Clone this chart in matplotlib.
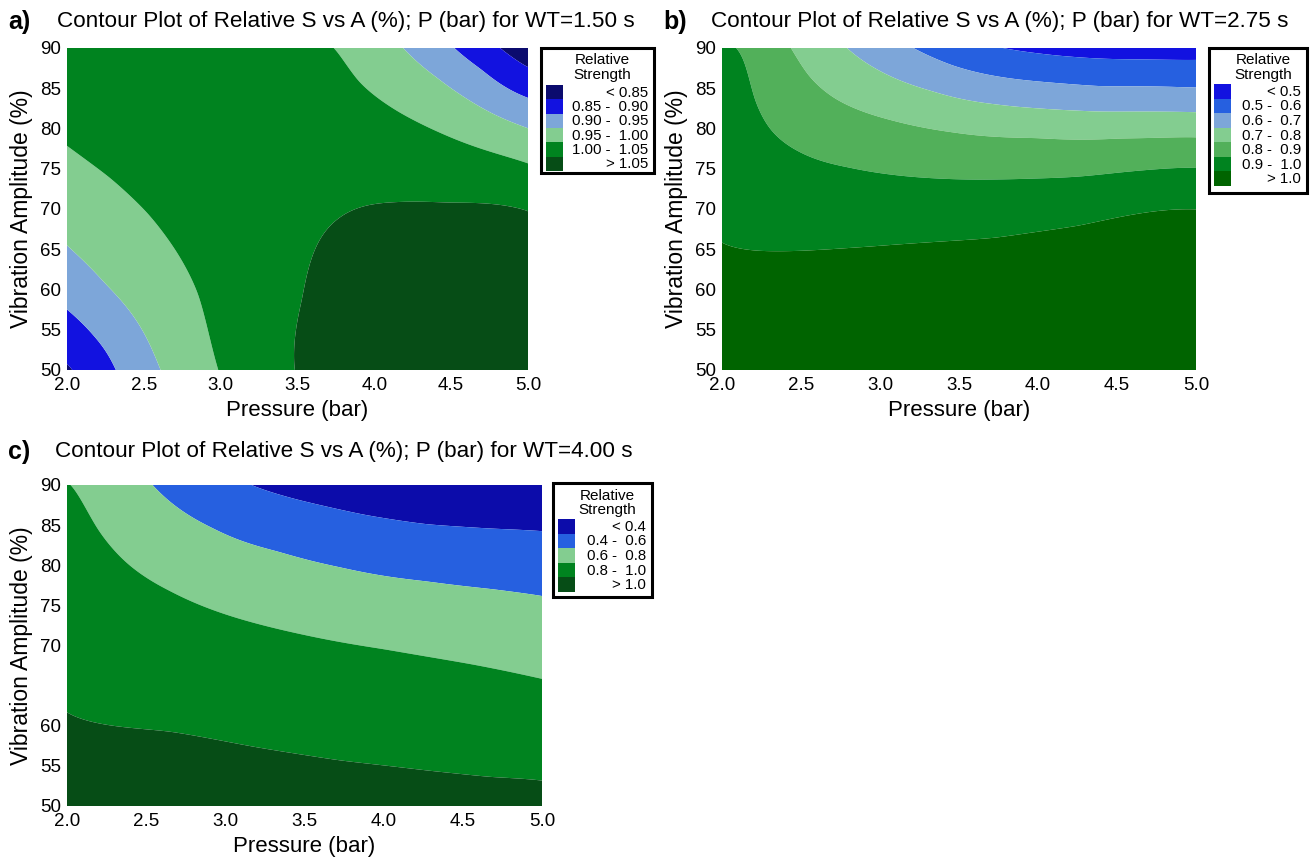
import numpy as np
import matplotlib
matplotlib.use("Agg")
import matplotlib.pyplot as plt
from matplotlib.patches import Rectangle
from matplotlib import font_manager as fm

# ---------------- data (points read on the contour boundaries) ----------------
# panel a: WT = 1.50 s
a_P = [2.00, 2.08, 4.78, 5.00,
       2.00, 2.17, 2.31, 4.51, 4.71, 5.00,
       2.00, 2.25, 2.45, 2.60, 4.19, 4.41, 4.69, 5.00,
       2.00, 2.28, 2.53, 2.72, 2.86, 2.98, 3.77, 3.89, 4.17, 4.44, 5.00,
       3.47, 3.54, 3.62, 3.76, 3.95, 4.14, 4.50, 5.00,
       3.30, 2.00]
a_A = [51.0, 50.0, 90.0, 87.0,
       57.5, 54.1, 50.0, 90.0, 87.7, 83.9,
       65.3, 60.4, 56.2, 50.0, 90.0, 86.5, 82.7, 80.1,
       77.9, 74.0, 69.5, 64.5, 59.5, 50.0, 90.0, 85.6, 81.9, 79.4, 75.8,
       50.0, 58.7, 65.3, 68.6, 70.5, 70.8, 70.6, 70.1,
       74.0, 90.0]
a_S = [0.85] * 4 + [0.90] * 6 + [0.95] * 8 + [1.00] * 11 + [1.05] * 8 + [1.035, 1.035]
a_bounds = [0.85, 0.90, 0.95, 1.00, 1.05]
a_labels = ["< 0.85", "0.85 -  0.90", "0.90 -  0.95", "0.95 -  1.00", "1.00 -  1.05", "> 1.05"]
a_colors = ["#0b0b6e", "#1212e0", "#7da6d9", "#83cd90", "#00831f", "#064d16"]

# panel b: WT = 2.75 s
b_P = [2.00, 2.35, 2.93, 3.73, 4.26, 5.00,
       2.15, 2.20, 2.30, 2.48, 2.80, 3.20, 3.73, 4.26, 5.00,
       2.43, 2.54, 2.72, 3.07, 3.46, 3.99, 4.52, 5.00,
       2.79, 2.99, 3.33, 3.73, 4.26, 5.00,
       3.20, 3.46, 3.86, 4.39, 5.00,
       3.73, 4.13, 4.52, 5.00]
b_A = [65.2, 64.8, 65.3, 66.3, 67.8, 69.9,
       90.0, 83.6, 79.8, 77.3, 75.3, 74.0, 73.7, 74.0, 75.3,
       90.0, 86.5, 83.6, 81.1, 79.6, 79.0, 78.9, 79.1,
       90.0, 87.3, 84.8, 83.1, 82.3, 82.0,
       90.0, 87.7, 86.1, 85.1, 84.9,
       90.0, 89.0, 88.6, 88.5]
b_S = [1.0] * 6 + [0.9] * 9 + [0.8] * 8 + [0.7] * 6 + [0.6] * 5 + [0.5] * 4
b_bounds = [0.5, 0.6, 0.7, 0.8, 0.9, 1.0]
b_labels = ["< 0.5", "0.5 -  0.6", "0.6 -  0.7", "0.7 -  0.8", "0.8 -  0.9", "0.9 -  1.0", "> 1.0"]
b_colors = ["#1212e0", "#2660e0", "#7da6d9", "#83cd90", "#52b05a", "#00831f", "#006400"]

# panel c: WT = 4.00 s
c_P = [2.00, 2.65, 3.19, 3.73, 4.27, 4.68, 5.00,
       2.06, 2.19, 2.38, 2.65, 3.06, 3.46, 4.00, 4.55, 5.00,
       2.53, 2.65, 2.92, 3.33, 3.73, 4.27, 4.68, 5.00,
       3.12, 3.46, 3.87, 4.27, 4.68, 5.00]
c_A = [61.1, 59.4, 57.3, 55.6, 54.4, 53.5, 53.3,
       90.0, 84.4, 80.2, 76.9, 73.5, 71.5, 69.6, 67.7, 65.8,
       90.0, 87.9, 84.8, 81.9, 79.8, 78.1, 77.1, 76.25,
       90.0, 88.1, 86.25, 85.0, 84.5, 84.25]
c_S = [1.0] * 7 + [0.8] * 9 + [0.6] * 8 + [0.4] * 6
c_bounds = [0.4, 0.6, 0.8, 1.0]
c_labels = ["< 0.4", "0.4 -  0.6", "0.6 -  0.8", "0.8 -  1.0", "> 1.0"]
c_colors = ["#0c0caa", "#2660e0", "#83cd90", "#00831f", "#064d16"]

x_ticks = [2.0, 2.5, 3.0, 3.5, 4.0, 4.5, 5.0]
y_ticks_ab = [50, 55, 60, 65, 70, 75, 80, 85, 90]
y_ticks_c = [50, 55, 60, 70, 75, 80, 85, 90]

# ---------------- fonts ----------------
names = {f.name for f in fm.fontManager.ttflist}
fam = [n for n in ["Liberation Sans Narrow", "Liberation Sans", "DejaVu Sans"] if n in names]
plt.rcParams["font.family"] = fam

W, H = 1314, 863
fig = plt.figure(figsize=(W / 100, H / 100), dpi=100)


def px_axes(x0, y0, x1, y1):
    return fig.add_axes([x0 / W, 1 - y1 / H, (x1 - x0) / W, (y1 - y0) / H])


def tps_surface(P, A, S, smooth=0.008):
    """Smoothing thin-plate spline through the read contour points."""
    x = (np.asarray(P, float) - 2.0) / 3.0
    y = (np.asarray(A, float) - 50.0) / 40.0 * 0.7
    z = np.asarray(S, float)
    n = len(x)

    def U(r):
        with np.errstate(divide="ignore", invalid="ignore"):
            v = r ** 2 * np.log(r)
        return np.where(r > 0, v, 0.0)

    K = U(np.hypot(x[:, None] - x[None, :], y[:, None] - y[None, :])) + smooth * np.eye(n)
    Pm = np.column_stack([np.ones(n), x, y])
    M = np.zeros((n + 3, n + 3))
    M[:n, :n] = K
    M[:n, n:] = Pm
    M[n:, :n] = Pm.T
    sol = np.linalg.solve(M, np.concatenate([z, np.zeros(3)]))
    w, c = sol[:n], sol[n:]

    def f(PP, AA):
        xx = (PP - 2.0) / 3.0
        yy = (AA - 50.0) / 40.0 * 0.7
        r = np.hypot(xx[..., None] - x, yy[..., None] - y)
        return U(r) @ w + c[0] + c[1] * xx + c[2] * yy
    return f


def panel(box, P, A, S, bounds, colors, yticks, letter, title, tpos):
    ax = px_axes(*box)
    f = tps_surface(P, A, S)
    pg = np.linspace(2.0, 5.0, 300)
    ag = np.linspace(50, 90, 300)
    PP, AA = np.meshgrid(pg, ag)
    Z = f(PP, AA)
    levels = [-10.0] + list(bounds) + [10.0]
    ax.contourf(PP, AA, Z, levels=levels, colors=colors, antialiased=True)
    ax.set_xlim(2.0, 5.0)
    ax.set_ylim(50, 90)
    ax.set_xticks(x_ticks)
    ax.set_xticklabels([f"{t:.1f}" for t in x_ticks])
    ax.set_yticks(yticks)
    for s in ax.spines.values():
        s.set_visible(False)
    ax.tick_params(axis="x", length=0, labelsize=13.5, pad=5)
    ax.tick_params(axis="y", length=0, labelsize=13.5, pad=4)
    ax.set_xlabel("Pressure (bar)", fontsize=16, labelpad=4)
    ax.set_ylabel("Vibration Amplitude (%)", fontsize=16.5, labelpad=5)
    fig.text(tpos[0] / W, 1 - tpos[1] / H, letter, fontsize=18, fontweight="bold",
             ha="left", va="center")
    fig.text(tpos[2] / W, 1 - tpos[1] / H, title, fontsize=16.2, ha="left", va="center")
    return ax


def legend(lbox, colors, labels, sw, rows_top, rows_bot):
    x0, y0, x1, y1 = lbox
    lax = px_axes(x0, y0, x1, y1)
    w, h = x1 - x0, y1 - y0
    lax.set_xlim(0, w)
    lax.set_ylim(h, 0)
    lax.axis("off")
    lax.add_patch(Rectangle((0, 0), w, h, fill=False, lw=2.2, ec="black", clip_on=False))
    lax.text(w / 2 + 5, 12.5, "Relative", ha="center", va="center", fontsize=11)
    lax.text(w / 2 + 5, 27, "Strength", ha="center", va="center", fontsize=11)
    n = len(colors)
    rh = (rows_bot - rows_top) / n
    for k in range(n):
        yy = rows_top + k * rh
        lax.add_patch(Rectangle((5, yy), sw, rh, fc=colors[k], ec="none"))
        lax.text(w - 6, yy + rh / 2 + 0.5, labels[k], ha="right", va="center", fontsize=10.8)


panel((67, 48, 528, 370), a_P, a_A, a_S, a_bounds, a_colors, y_ticks_ab, "a)",
      "Contour Plot of Relative S vs A (%); P (bar) for WT=1.50 s", (8, 22, 57))
legend((541, 48, 654, 173), a_colors, a_labels, 17, 37, 123)

panel((722, 48, 1196, 370), b_P, b_A, b_S, b_bounds, b_colors, y_ticks_ab, "b)",
      "Contour Plot of Relative S vs A (%); P (bar) for WT=2.75 s", (663, 22, 711))
legend((1209, 48, 1307, 193), b_colors, b_labels, 17, 36, 138)

panel((67, 485, 542, 806), c_P, c_A, c_S, c_bounds, c_colors, y_ticks_c, "c)",
      "Contour Plot of Relative S vs A (%); P (bar) for WT=4.00 s", (8, 452, 55))
legend((553, 483, 652, 597), c_colors, c_labels, 17, 36, 109)

fig.savefig("out.png", dpi=100)
